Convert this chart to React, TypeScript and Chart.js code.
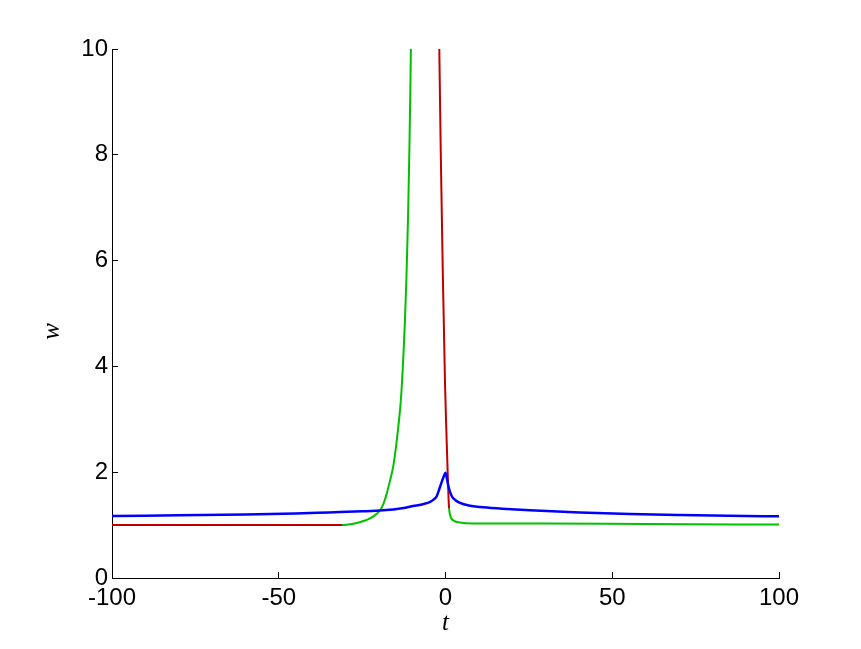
import React, { useEffect, useRef } from "react";
import { Chart, registerables } from "chart.js";

Chart.register(...registerables);

// ---- data ----
const blueT = [-100, -80, -60, -45, -35, -25, -18.7, -13, -9.7, -6.5, -4.6, -3.4, -2.6, -1.65, -0.65, -0.25, 0, 0.3, 0.85, 1.85, 3, 4.35, 7, 10.3, 17, 25.3, 40.3, 55.3, 70.3, 85, 100];
const blueW = [1.17, 1.185, 1.2, 1.22, 1.24, 1.26, 1.28, 1.32, 1.36, 1.4, 1.44, 1.49, 1.55, 1.72, 1.9, 1.96, 1.99, 1.92, 1.74, 1.55, 1.47, 1.42, 1.37, 1.34, 1.31, 1.28, 1.24, 1.21, 1.19, 1.175, 1.165];

const redT = [-100, -31, -30.9, -1.95, -1.86, -1.44, -1.14, -0.84, -0.54, -0.15, 0.2, 0.5, 0.75, 0.92, 1.05];
const redW = [1.0, 1.0, null, 10.5, 10, 8.13, 7.0, 5.88, 4.93, 3.69, 2.9, 2.3, 1.8, 1.5, 1.32];

const greenT = [-100, -31, -28, -25.5, -23.6, -21.5, -19.6, -18.5, -17.6, -16.6, -15.7, -14.8, -14.0, -13.4, -12.7, -12.2, -11.7, -11.2, -10.8, -10.5, -10.3, -10.2, 1.05, 1.35, 2.3, 4.3, 8.2, 30, 60, 100];
const greenW = [1.0, 1.0, 1.02, 1.06, 1.1, 1.17, 1.28, 1.42, 1.6, 1.85, 2.1, 2.5, 2.95, 3.35, 4.1, 4.8, 5.7, 6.9, 8.2, 9.4, 10.5, null, 1.32, 1.19, 1.09, 1.05, 1.03, 1.03, 1.02, 1.01];

const xTicks = [-100, -50, 0, 50, 100];
const yTicks = [0, 2, 4, 6, 8, 10];
const xTitle = "t";
const yTitle = "w";

function toPoints(ts: number[], ws: (number | null)[]) {
  return ts.map((t, i) => ({ x: t, y: ws[i] }));
}

const titlePlugin = {
  id: "axisTitles",
  afterDraw(chart: any) {
    const { ctx, chartArea } = chart;
    ctx.save();
    ctx.fillStyle = "#000";
    ctx.font = "italic 25px 'Liberation Serif', 'Times New Roman', serif";
    ctx.textAlign = "center";
    ctx.textBaseline = "alphabetic";
    ctx.fillText(xTitle, (chartArea.left + chartArea.right) / 2, chartArea.bottom + 52);
    ctx.translate(chartArea.left - 53, (chartArea.top + chartArea.bottom) / 2 + 18);
    ctx.rotate(-Math.PI / 2);
    ctx.fillText(yTitle, 0, 0);
    ctx.restore();
  },
};

export default function App() {
  const ref = useRef<HTMLCanvasElement | null>(null);
  useEffect(() => {
    if (!ref.current) return;
    const tickFont = { family: "'Liberation Sans', Arial, Helvetica, sans-serif", size: 24 };
    const chart = new Chart(ref.current, {
      type: "line",
      data: {
        datasets: [
          {
            label: "blue",
            data: toPoints(blueT, blueW),
            borderColor: "rgb(0,0,255)",
            borderWidth: 2.5,
            pointRadius: 0,
            cubicInterpolationMode: "monotone",
            spanGaps: false,
          },
          {
            label: "red",
            data: toPoints(redT, redW),
            borderColor: "rgb(192,0,0)",
            borderWidth: 2,
            pointRadius: 0,
            cubicInterpolationMode: "monotone",
            spanGaps: false,
          },
          {
            label: "green",
            data: toPoints(greenT, greenW),
            borderColor: "rgb(0,192,0)",
            borderWidth: 2,
            pointRadius: 0,
            cubicInterpolationMode: "monotone",
            spanGaps: false,
          },
        ],
      } as any,
      options: {
        animation: false,
        responsive: false,
        events: [],
        layout: { padding: { left: 0, right: 82, top: 49, bottom: 0 } },
        plugins: { legend: { display: false }, tooltip: { enabled: false } },
        scales: {
          x: {
            type: "linear",
            min: -100,
            max: 100,
            afterBuildTicks: (s: any) => {
              s.ticks = xTicks.map((v) => ({ value: v }));
            },
            afterFit: (s: any) => {
              s.height = 71;
            },
            grid: { drawOnChartArea: false, drawTicks: true, tickLength: -6, color: "#000", lineWidth: 1 },
            border: { display: true, color: "#000", width: 1 },
            ticks: { padding: 12, color: "#000", font: tickFont, maxRotation: 0, callback: (v: any) => String(v) },
          },
          y: {
            type: "linear",
            min: 0,
            max: 10,
            afterBuildTicks: (s: any) => {
              s.ticks = yTicks.map((v) => ({ value: v }));
            },
            afterFit: (s: any) => {
              s.width = 112;
            },
            grid: { drawOnChartArea: false, drawTicks: true, tickLength: -6, color: "#000", lineWidth: 1 },
            border: { display: true, color: "#000", width: 1 },
            ticks: { padding: 10, color: "#000", font: tickFont, callback: (v: any) => String(v) },
          },
        },
      } as any,
      plugins: [titlePlugin],
    });
    return () => chart.destroy();
  }, []);
  return (
    <div style={{ position: "absolute", left: 0, top: 0, width: 861, height: 649, background: "#fff" }}>
      <canvas ref={ref} width={861} height={649} />
    </div>
  );
}
